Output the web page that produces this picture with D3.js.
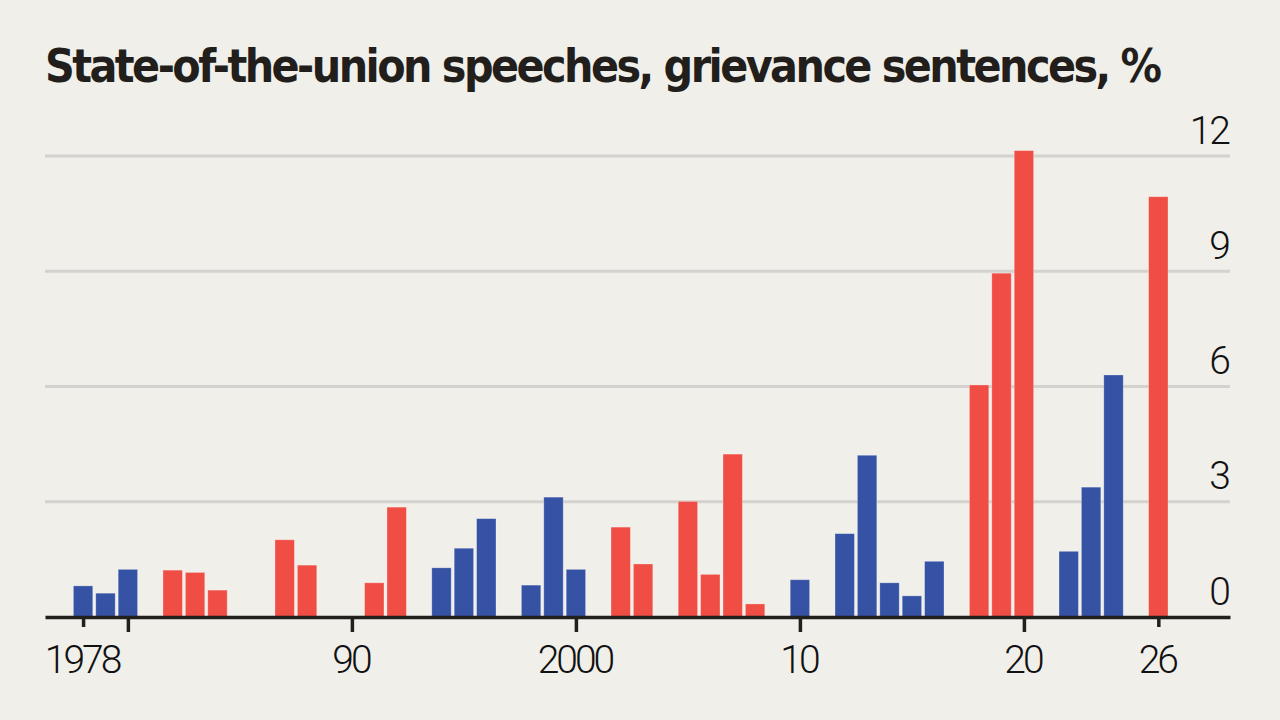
<!DOCTYPE html>
<html lang="en">
<head>
    <meta charset="UTF-8">
    <title>State-of-the-union speeches, grievance sentences</title>
    <script src="https://cdnjs.cloudflare.com/ajax/libs/d3/7.8.5/d3.min.js"></script>
    <style>
        body {
            margin: 0;
            padding: 0;
            background-color: #f0efea;
        }
        .title {
            font-family: "DejaVu Sans Condensed", "Liberation Sans Narrow", sans-serif;
        }
        .lbl {
            font-family: Roboto, "DejaVu Sans Condensed", sans-serif;
            font-weight: 300;
        }
    </style>
</head>
<body>
    <div id="chart"></div>

    <script>
        // grievance sentences as % of each speech, one bar per year with a speech
        const years = [1978, 1979, 1980, 1982, 1983, 1984, 1987, 1988, 1991, 1992,
                       1994, 1995, 1996, 1998, 1999, 2000, 2002, 2003, 2005, 2006,
                       2007, 2008, 2010, 2012, 2013, 2014, 2015, 2016, 2018, 2019,
                       2020, 2022, 2023, 2024, 2026];
        const grievance = [0.81, 0.62, 1.24, 1.22, 1.16, 0.70, 2.01, 1.35, 0.89, 2.86,
                           1.28, 1.79, 2.56, 0.83, 3.12, 1.24, 2.34, 1.38, 3.01, 1.11,
                           4.24, 0.34, 0.97, 2.17, 4.21, 0.89, 0.55, 1.45, 6.04, 8.95,
                           12.14, 1.71, 3.38, 6.30, 10.94];
        const party = ["D", "D", "D", "R", "R", "R", "R", "R", "R", "R",
                       "D", "D", "D", "D", "D", "D", "R", "R", "R", "R",
                       "R", "R", "D", "D", "D", "D", "D", "D", "R", "R",
                       "R", "D", "D", "D", "R"];

        const xTicks = [1978, 1980, 1990, 2000, 2010, 2020, 2026];
        const xTickLabels = ["1978", "", "90", "2000", "10", "20", "26"];
        const yTicks = [0, 3, 6, 9, 12];

        const width = 1280;
        const height = 720;
        const left = 45, right = 1230;

        const colors = {D: "#3652a4", R: "#f04e45"};

        const svg = d3.select("#chart")
            .append("svg")
            .attr("width", width)
            .attr("height", height);

        svg.append("rect")
            .attr("width", width)
            .attr("height", height)
            .attr("fill", "#f0efea");

        const x = d3.scaleLinear()
            .domain([1976.3, 2029.2])
            .range([left, right]);

        const y = d3.scaleLinear()
            .domain([0, 12])
            .range([617, 156]);

        // title - tighten letter spacing so it spans the same width as the original
        const titleText = "State-of-the-union speeches, grievance sentences, %";
        const title = svg.append("text")
            .attr("class", "title")
            .attr("x", left)
            .attr("y", 82)
            .attr("font-size", 46)
            .attr("font-weight", "bold")
            .attr("fill", "#221e1b")
            .text(titleText);
        const tw = title.node().getComputedTextLength();
        const ls = (1117 - tw) / (titleText.length - 1);
        title.attr("letter-spacing", ls.toFixed(2));

        // gridlines
        svg.append("g")
            .selectAll("line")
            .data(yTicks.filter(d => d > 0))
            .join("line")
            .attr("x1", left)
            .attr("x2", right)
            .attr("y1", d => y(d))
            .attr("y2", d => y(d))
            .attr("stroke", "#d3d2cf")
            .attr("stroke-width", 3);

        // y labels, right side above lines
        svg.append("g")
            .selectAll("text")
            .data(yTicks)
            .join("text")
            .attr("class", "lbl")
            .attr("x", right - 1)
            .attr("y", d => y(d) - 12.5)
            .attr("text-anchor", "end")
            .attr("font-size", 39)
            .attr("letter-spacing", -2)
            .attr("fill", "#111")
            .text(d => d);

        // bars
        const data = years.map((yr, i) => ({year: yr, value: grievance[i], party: party[i]}));
        const barW = 19.4;

        svg.append("g")
            .selectAll("rect")
            .data(data)
            .join("rect")
            .attr("x", d => x(d.year) - barW / 2)
            .attr("width", barW)
            .attr("y", d => y(d.value))
            .attr("height", d => y(0) - y(d.value))
            .attr("fill", d => colors[d.party])
            .attr("stroke", "rgba(255,255,255,0.35)")
            .attr("stroke-width", 0.8);

        // x axis
        const xAxis = d3.axisBottom(x)
            .tickValues(xTicks)
            .tickSizeInner(15)
            .tickSizeOuter(0)
            .tickFormat((d, i) => xTickLabels[i]);

        const gx = svg.append("g")
            .attr("transform", `translate(0,${y(0)})`)
            .call(xAxis);

        gx.select(".domain")
            .attr("stroke", "#231f1c")
            .attr("stroke-width", 3.5);

        gx.selectAll(".tick line")
            .attr("stroke", "#231f1c")
            .attr("stroke-width", 3.5)
            .attr("y2", d => d % 10 === 0 ? 15 : 10);

        gx.selectAll(".tick text")
            .attr("class", "lbl")
            .attr("y", 56)
            .attr("dy", null)
            .attr("font-size", 39)
            .attr("font-family", null)
            .attr("letter-spacing", -3)
            .attr("dx", -1.5)
            .attr("fill", "#111");
    </script>
</body>
</html>
